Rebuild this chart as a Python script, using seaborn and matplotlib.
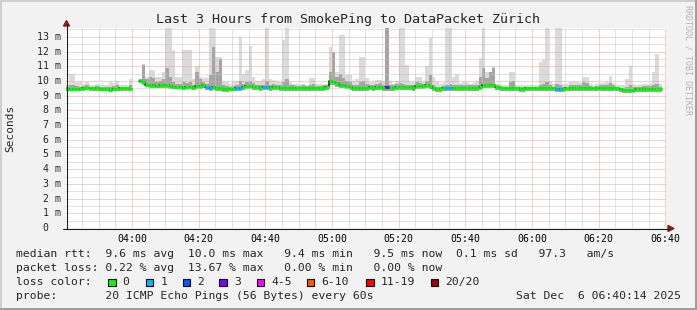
import numpy as np
import pandas as pd
import matplotlib
matplotlib.use("Agg")
import matplotlib.pyplot as plt
import seaborn as sns
from matplotlib import transforms
from matplotlib.patches import Rectangle, Polygon
from matplotlib.lines import Line2D

nan = np.nan

# ---------------- data (one value per minute, starting 03:40:14) ----------------
median_ms = [
    9.45, 9.45, 9.45, 9.45, 9.45, 9.5, 9.55, 9.5, 9.5, 9.5, 9.45, 9.45, 9.45, 9.4, 9.45, 9.45, 9.5, 9.5, 9.5, 9.45,
    nan, nan, 10.0, 9.9, 9.75, 9.7, 9.7, 9.65, 9.75, 9.75, 9.7, 9.65, 9.6, 9.6, 9.6, 9.55, 9.6, 9.6, 9.55, 9.65,
    9.65, 9.7, 9.6, 9.55, 9.6, 9.55, 9.55, 9.45, 9.45, 9.45, 9.45, 9.5, 9.5, 9.6, 9.65, 9.65, 9.6, 9.6, 9.55, 9.6,
    9.6, 9.55, 9.6, 9.6, 9.55, 9.55, 9.5, 9.55, 9.55, 9.5, 9.5, 9.55, 9.5, 9.5, 9.55, 9.5, 9.5, 9.55, 9.6, 10.0,
    9.95, 9.85, 9.75, 9.7, 9.65, 9.6, 9.5, 9.5, 9.55, 9.55, 9.55, 9.6, 9.55, 9.6, 9.6, 9.55, 9.6, 9.55, 9.55, 9.6,
    9.6, 9.6, 9.6, 9.6, 9.55, 9.65, 9.65, 9.65, 9.7, 9.65, 9.5, 9.45, 9.45, 9.5, 9.5, 9.5, 9.5, 9.55, 9.55, 9.55,
    9.55, 9.55, 9.55, 9.55, 9.6, 9.7, 9.7, 9.7, 9.7, 9.6, 9.5, 9.5, 9.5, 9.5, 9.5, 9.5, 9.45, 9.45, 9.5, 9.5,
    9.5, 9.5, 9.5, 9.5, 9.5, 9.5, 9.5, 9.45, 9.45, 9.45, 9.5, 9.5, 9.5, 9.5, 9.5, 9.5, 9.5, 9.5, 9.5, 9.5,
    9.5, 9.5, 9.5, 9.5, 9.5, 9.5, 9.45, 9.4, 9.4, 9.4, 9.4, 9.45, 9.45, 9.45, 9.45, 9.45, 9.45, 9.45, 9.45, nan,
]
max_ms = [
    9.7, 10.45, 10.45, 9.9, 9.9, 9.8, 9.9, 9.75, 9.7, 9.8, 9.75, 9.7, 9.75, 9.9, 9.85, 10.0, 9.7, 9.75, 9.7, 10.1,
    nan, nan, 10.1, 11.15, 10.3, 10.75, 10.75, 10.3, 10.3, 10.6, 13.6, 13.6, 12.1, 10.3, 10.3, 12.1, 12.1, 12.1, 10.1, 11.0,
    10.3, 10.2, 10.2, 13.6, 13.6, 11.6, 11.6, 10.0, 9.9, 9.8, 9.9, 10.0, 13.0, 10.5, 10.75, 12.4, 10.3, 10.0, 10.0, 10.1,
    13.6, 10.1, 10.07, 10.0, 9.9, 12.8, 13.6, 9.9, 9.8, 9.8, 9.8, 9.8, 9.75, 10.2, 10.2, 9.8, 9.8, 9.75, 9.8, 12.3,
    11.8, 10.6, 13.1, 13.1, 10.4, 10.4, 10.0, 10.1, 11.65, 11.65, 10.2, 9.9, 9.9, 10.07, 10.07, 10.0, 13.6, 10.0, 9.8, 10.0,
    13.6, 13.6, 11.1, 9.9, 9.9, 10.3, 10.3, 9.9, 11.0, 12.9, 10.3, 9.9, 9.8, 9.85, 13.6, 13.6, 10.3, 10.5, 9.85, 9.9,
    9.9, 9.8, 9.85, 10.0, 11.55, 13.6, 10.6, 10.6, 11.0, 9.8, 9.8, 9.7, 9.7, 10.6, 10.6, 9.75, 9.7, 9.7, 9.75, 9.7,
    9.7, 9.75, 11.3, 11.4, 13.6, 10.0, 9.8, 13.6, 13.6, 9.8, 9.8, 9.9, 9.9, 9.9, 9.85, 10.3, 10.3, 9.8, 9.75, 9.8,
    9.85, 9.85, 9.9, 10.35, 9.85, 9.75, 9.7, 9.75, 10.1, 11.0, 9.8, 9.75, 9.75, 9.8, 9.8, 9.8, 10.6, 11.8, 9.8, nan,
]
upper_ms = [
    9.6, 9.75, 9.7, 9.65, 9.6, 9.65, 9.7, 9.6, 9.6, 9.65, 9.6, 9.6, 9.6, 9.6, 9.65, 9.7, 9.6, 9.6, 9.6, 9.7,
    nan, nan, 10.1, 11.1, 10.1, 10.3, 10.2, 9.9, 10.0, 10.1, 10.9, 10.3, 9.9, 9.8, 9.8, 9.9, 9.85, 9.9, 9.75, 10.6,
    10.1, 9.9, 9.8, 10.4, 12.3, 10.6, 11.5, 9.7, 9.65, 9.6, 9.65, 9.7, 10.0, 9.8, 9.9, 10.0, 9.85, 9.75, 9.7, 9.75,
    10.0, 9.75, 9.8, 9.75, 9.7, 9.9, 10.1, 9.7, 9.7, 9.65, 9.65, 9.7, 9.65, 9.75, 9.8, 9.65, 9.65, 9.7, 9.75, 10.6,
    12.0, 10.3, 10.5, 10.2, 10.0, 9.9, 9.7, 9.75, 9.9, 10.0, 9.8, 9.75, 9.7, 9.8, 9.85, 9.75, 13.6, 9.75, 9.7, 9.8,
    9.85, 9.8, 9.75, 9.7, 9.7, 9.9, 9.85, 9.8, 10.0, 10.4, 9.7, 9.6, 9.6, 9.65, 9.75, 9.8, 9.7, 9.75, 9.7, 9.7,
    9.75, 9.7, 9.7, 9.75, 10.3, 10.9, 10.2, 10.6, 10.9, 9.7, 9.65, 9.6, 9.6, 9.9, 10.0, 9.6, 9.6, 9.6, 9.6, 9.6,
    9.6, 9.6, 9.75, 9.8, 9.9, 9.7, 9.6, 9.8, 9.75, 9.6, 9.6, 9.7, 9.7, 9.7, 9.7, 9.9, 9.85, 9.65, 9.6, 9.65,
    9.7, 9.7, 9.75, 9.85, 9.7, 9.6, 9.55, 9.55, 9.6, 9.7, 9.6, 9.6, 9.6, 9.65, 9.65, 9.65, 9.7, 9.8, 9.6, nan,
]
min_ms = [
    9.3, 9.3, 9.3, 9.32, 9.3, 9.35, 9.4, 9.35, 9.35, 9.3, 9.3, 9.32, 9.3, 9.25, 9.3, 9.3, 9.35, 9.35, 9.35, 9.3,
    nan, nan, 9.85, 9.7, 9.6, 9.55, 9.5, 9.5, 9.55, 9.55, 9.5, 9.45, 9.45, 9.45, 9.45, 9.4, 9.45, 9.45, 9.4, 9.45,
    9.45, 9.5, 9.4, 9.35, 9.4, 9.35, 9.35, 9.25, 9.25, 9.3, 9.3, 9.3, 9.3, 9.4, 9.45, 9.45, 9.4, 9.4, 9.35, 9.4,
    9.4, 9.35, 9.4, 9.4, 9.35, 9.35, 9.3, 9.35, 9.3, 9.3, 9.3, 9.35, 9.3, 9.3, 9.35, 9.3, 9.3, 9.35, 9.4, 9.7,
    9.7, 9.6, 9.5, 9.5, 9.45, 9.4, 9.3, 9.3, 9.35, 9.35, 9.35, 9.4, 9.35, 9.4, 9.4, 9.35, 9.35, 9.35, 9.35, 9.4,
    9.4, 9.4, 9.4, 9.4, 9.35, 9.45, 9.45, 9.45, 9.5, 9.45, 9.3, 9.25, 9.25, 9.3, 9.3, 9.3, 9.3, 9.35, 9.35, 9.35,
    9.35, 9.35, 9.35, 9.35, 9.4, 9.5, 9.5, 9.5, 9.5, 9.4, 9.3, 9.3, 9.3, 9.3, 9.3, 9.3, 9.25, 9.25, 9.3, 9.3,
    9.3, 9.3, 9.3, 9.3, 9.3, 9.3, 9.3, 9.25, 9.25, 9.25, 9.3, 9.3, 9.3, 9.3, 9.3, 9.3, 9.3, 9.3, 9.3, 9.3,
    9.3, 9.3, 9.3, 9.3, 9.3, 9.3, 9.25, 9.2, 9.2, 9.2, 9.2, 9.25, 9.25, 9.25, 9.25, 9.25, 9.25, 9.25, 9.25, nan,
]
# minutes with packet loss and their loss bucket (index into loss_labels)
loss_minutes = [42, 43, 51, 52, 59, 60, 96, 114, 115, 147, 148]
loss_bucket = [1, 1, 1, 1, 1, 1, 3, 1, 1, 1, 1]

loss_labels = ["0", "1", "2", "3", "4-5", "6-10", "11-19", "20/20"]
loss_colors = ["#00ff00", "#00b8ff", "#0059ff", "#7e00ff", "#ff00ff", "#ff5500", "#ff0000", "#a10000"]

start_time = "03:40:14"
x_tick_labels = ["04:00", "04:20", "04:40", "05:00", "05:20", "05:40", "06:00", "06:20", "06:40"]
y_tick_values = [0, 1, 2, 3, 4, 5, 6, 7, 8, 9, 10, 11, 12, 13]
y_tick_labels = ["0", "1 m", "2 m", "3 m", "4 m", "5 m", "6 m", "7 m", "8 m", "9 m", "10 m", "11 m", "12 m", "13 m"]

title = "Last 3 Hours from SmokePing to DataPacket Zürich"
ylabel = "Seconds"
line_rtt = "median rtt:  9.6 ms avg  10.0 ms max   9.4 ms min   9.5 ms now  0.1 ms sd   97.3   am/s"
line_loss = "packet loss: 0.22 % avg  13.67 % max   0.00 % min   0.00 % now"
line_color = "loss color:"
line_probe = "probe:       20 ICMP Echo Pings (56 Bytes) every 60s"
stamp = "Sat Dec  6 06:40:14 2025"
watermark = "RRDTOOL / TOBI OETIKER"

# ---------------- drawing ----------------
sns.set_style("white")
plt.rcParams["font.family"] = ["DejaVu Sans Mono", "DejaVu Sans"]

W, H = 697, 310
fig = plt.figure(figsize=(W / 100, H / 100), dpi=100, facecolor="#f2f2f2")


def fx(x):
    return x / W


def fy(y):
    return 1 - y / H


ax = fig.add_axes([fx(66), fy(228), 600 / W, 200 / H])
ax.set_facecolor("white")


def minutes_from_start(hhmm):
    h, m = hhmm.split(":")[:2]
    sh, sm, ss = [int(v) for v in start_time.split(":")]
    return (int(h) * 60 + int(m)) - (sh * 60 + sm + ss / 60)


med = np.array(median_ms, float)
hi = np.array(max_ms, float)
up = np.array(upper_ms, float)
lo = np.array(min_ms, float)
n = len(med)
sec = int(start_time.split(":")[2])
left = np.arange(n) - sec / 60.0
valid = ~np.isnan(med)

bucket = np.zeros(n, int)
bucket[loss_minutes] = loss_bucket

# smoke
ax.bar(left[valid], (hi - lo)[valid], bottom=lo[valid], width=1, align="edge",
       color="#dadada", linewidth=0, antialiased=False, zorder=1)
ax.bar(left[valid], (up - lo)[valid], bottom=lo[valid], width=1, align="edge",
       color="#a4a4a4", linewidth=0, antialiased=False, zorder=1.1)

# median step outline (dark), then loss-coloured median
rows = []
seg = 0
for i in range(n):
    if valid[i]:
        if i == 0 or not valid[i - 1]:
            seg += 1
        rows.append((left[i], med[i], seg))
        if i == n - 1 or not valid[i + 1]:
            rows.append((left[i] + 1, med[i], seg))
df = pd.DataFrame(rows, columns=["t", "rtt", "seg"])
sns.lineplot(data=df, x="t", y="rtt", units="seg", estimator=None, drawstyle="steps-post",
             color="#1a1a1a", lw=1.1, ax=ax, legend=False, zorder=3)
ax.hlines(med[valid], left[valid], left[valid] + 1,
          colors=[loss_colors[b] for b in bucket[valid]], lw=2.2, zorder=4)

ax.set_xlim(0, 180)
ax.set_ylim(0, 13.6)
ax.set_xlabel("")
ax.set_ylabel("")

major_x = [minutes_from_start(l) for l in x_tick_labels]
minor_x = [m for m in np.arange(major_x[0] - 15, 181, 5) if min(abs(m - np.array(major_x))) > 0.1 and m > 0]
ax.set_xticks(major_x)
ax.set_xticklabels(x_tick_labels, fontsize=7.1, color="black")
ax.set_xticks(minor_x, minor=True)
ax.set_yticks(y_tick_values)
ax.set_yticklabels([])
ax.set_yticks(np.array(y_tick_values) + 0.5, minor=True)

ax.grid(which="major", color="#eda2a2", lw=0.72, ls=(0, (1, 1)))
ax.grid(which="minor", color="#c6c6c6", lw=0.72, ls=(0, (1, 1)))
ax.set_axisbelow("line")
ax.tick_params(axis="x", which="major", length=2.2, width=0.72, color="#1f1f1f", pad=2.0)
ax.tick_params(axis="x", which="minor", length=1.2, width=0.72, color="#1f1f1f")
ax.tick_params(axis="y", which="major", length=2.2, width=0.72, color="#1f1f1f")
ax.tick_params(axis="y", which="minor", length=0)
for s in ax.spines.values():
    s.set_visible(False)

# y tick labels
ytr = transforms.blended_transform_factory(fig.transFigure, ax.transData)
for v, lab in zip(y_tick_values, y_tick_labels):
    xr = 60.5 if lab.endswith("m") else 48.5
    fig.text(fx(xr), v, lab, transform=ytr, ha="right", va="center", fontsize=7.1)

# axes lines & arrows
axis_col = "#1f1f1f"
arrow_col = "#801f1f"
fig.add_artist(Line2D([fx(66.5), fx(66.5)], [fy(228.5), fy(24)], color=axis_col, lw=0.8))
fig.add_artist(Line2D([fx(63), fx(669)], [fy(228.5), fy(228.5)], color=axis_col, lw=0.8))
fig.add_artist(Polygon([[fx(63.5), fy(26)], [fx(69.5), fy(26)], [fx(66.5), fy(20.5)]],
                       closed=True, color=arrow_col, transform=fig.transFigure))
fig.add_artist(Polygon([[fx(668), fy(225.5)], [fx(668), fy(231.5)], [fx(674), fy(228.5)]],
                       closed=True, color=arrow_col, transform=fig.transFigure))

# texts
fig.text(fx(348), fy(19), title, ha="center", va="center", fontsize=9.6)
fig.text(fx(10), fy(128), ylabel, rotation=90, ha="center", va="center", fontsize=8)
fig.text(fx(688), fy(60), watermark, rotation=270, ha="center", va="center", fontsize=6, color="#b4b4b4")

fs = 8.2
fig.text(fx(16), fy(254), line_rtt, ha="left", va="center", fontsize=fs)
fig.text(fx(16), fy(268), line_loss, ha="left", va="center", fontsize=fs)
fig.text(fx(16), fy(282), line_color, ha="left", va="center", fontsize=fs)
fig.text(fx(16), fy(296), line_probe, ha="left", va="center", fontsize=fs)
fig.text(fx(681), fy(296), stamp, ha="right", va="center", fontsize=fs)

box_x = [108, 145.7, 182.7, 219.3, 256.7, 306.7, 366, 430.7]
for bx, lab, col in zip(box_x, loss_labels, loss_colors):
    fig.add_artist(Rectangle((fx(bx), fy(286)), 7.5 / W, 7.5 / H, facecolor=col, edgecolor="black",
                             lw=0.8, transform=fig.transFigure))
    fig.text(fx(bx + 14.5), fy(282), lab, ha="left", va="center", fontsize=fs)

# 3D frame
fig.add_artist(Rectangle((0, fy(2)), 1, 2 / H, color="#cfcfcf", transform=fig.transFigure, lw=0))
fig.add_artist(Rectangle((0, 0), 2 / W, 1, color="#cfcfcf", transform=fig.transFigure, lw=0))
fig.add_artist(Rectangle((0, 0), 1, 2 / H, color="#9e9e9e", transform=fig.transFigure, lw=0))
fig.add_artist(Rectangle((fx(695), 0), 2 / W, 1, color="#9e9e9e", transform=fig.transFigure, lw=0))

fig.savefig("out.png", dpi=100, facecolor=fig.get_facecolor())
